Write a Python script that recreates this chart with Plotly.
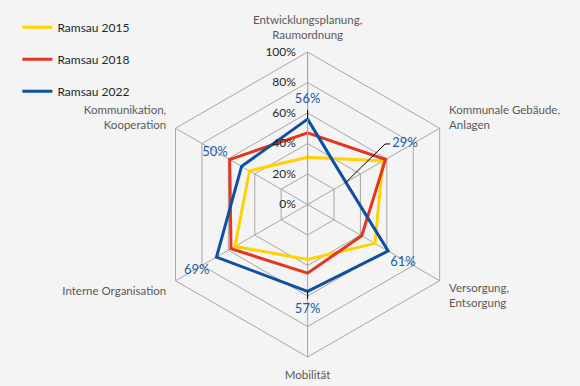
import plotly.graph_objects as go

categories = ["Entwicklungsplanung,<br>Raumordnung", "Kommunale Gebäude,<br>Anlagen",
              "Versorgung,<br>Entsorgung", "Mobilität", "Interne Organisation",
              "Kommunikation,<br>Kooperation"]
series_names = ["Ramsau 2015", "Ramsau 2018", "Ramsau 2022"]
values_2015 = [0.31, 0.57, 0.51, 0.36, 0.55, 0.44]
values_2018 = [0.47, 0.59, 0.41, 0.45, 0.58, 0.59]
values_2022 = [0.56, 0.29, 0.61, 0.57, 0.69, 0.50]
radial_ticks = [0, 0.2, 0.4, 0.6, 0.8, 1.0]

# layout / style settings
colors = ["#FFD200", "#E5361D", "#0D50A0"]
label_color = "#1A5BA8"
val_label_pos = [(0.69, 0), (0.752, 58.2), (0.734, 121.5), (0.692, 180), (0.848, 239.0), (0.696, 299.2)]
grid_col = "#A6A6A6"
font_family = "Lato"

fig = go.Figure()
for name, vals, col in zip(series_names, [values_2015, values_2018, values_2022], colors):
    fig.add_trace(go.Scatterpolar(
        r=vals + vals[:1], theta=categories + categories[:1], mode="lines",
        name=name, legendgroup=name, line=dict(color=col, width=3), subplot="polar"))

# leader lines for data labels (overlay polar with numeric angles)
leaders = [
    ([values_2022[0], values_2022[0] + 0.06], [0, 0]),
    ([values_2022[1], 0.644, 0.671], [60, 52.0, 53.7]),
    ([values_2022[3], values_2022[3] + 0.05], [180, 180]),
]
for rr, tt in leaders:
    fig.add_trace(go.Scatterpolar(r=rr, theta=tt, mode="lines", showlegend=False, subplot="polar2",
                                  line=dict(color="black", width=1), hoverinfo="skip"))

fig.add_trace(go.Scatterpolar(
    r=[p[0] for p in val_label_pos], theta=[p[1] for p in val_label_pos], mode="text",
    text=[f"{round(v*100)}%" for v in values_2022], showlegend=False, cliponaxis=False,
    subplot="polar2",
    textfont=dict(color=label_color, size=13, family=font_family), hoverinfo="skip"))

cx, cy, R = 307.6, 204.5, 152.5
W, H = 580, 386
dom = dict(x=[(cx - R) / W, (cx + R) / W], y=[(H - cy - R) / H, (H - cy + R) / H])
fig.update_layout(
    width=W, height=H, margin=dict(l=0, r=0, t=0, b=0),
    paper_bgcolor="#F4F4F4", plot_bgcolor="#F4F4F4",
    font=dict(family=font_family, size=12, color="#262626"),
    polar=dict(
        bgcolor="rgba(0,0,0,0)", gridshape="linear", domain=dom,
        angularaxis=dict(rotation=90, direction="clockwise", type="category",
                         ticks="outside", ticklen=8, tickcolor="rgba(0,0,0,0)",
                         tickfont=dict(size=11.5, color="#595959", family=font_family),
                         showgrid=True, gridcolor=grid_col, gridwidth=1,
                         showline=True, linecolor=grid_col, linewidth=1),
        radialaxis=dict(range=[0, 1], tickmode="array", tickvals=radial_ticks,
                        tickformat=".0%", angle=90, side="counterclockwise", tickangle=90,
                        showline=True, linecolor=grid_col, linewidth=1,
                        showgrid=True, gridcolor=grid_col, gridwidth=1,
                        ticks="outside", ticklen=7, tickcolor="rgba(0,0,0,0)",
                        tickfont=dict(size=12, color="#262626", family=font_family)),
    ),
    polar2=dict(
        bgcolor="rgba(0,0,0,0)", domain=dom,
        angularaxis=dict(rotation=90, direction="clockwise", visible=False),
        radialaxis=dict(range=[0, 1], visible=False),
    ),
    showlegend=True,
    legend=dict(x=0.030, y=0.967, xanchor="left", yanchor="top", traceorder="grouped",
                tracegroupgap=13, bgcolor="rgba(0,0,0,0)",
                font=dict(size=12, color="#262626", family=font_family)),
)
fig.write_html("out.html", config={"displayModeBar": False},
               post_script="document.body.style.margin='0px';")
